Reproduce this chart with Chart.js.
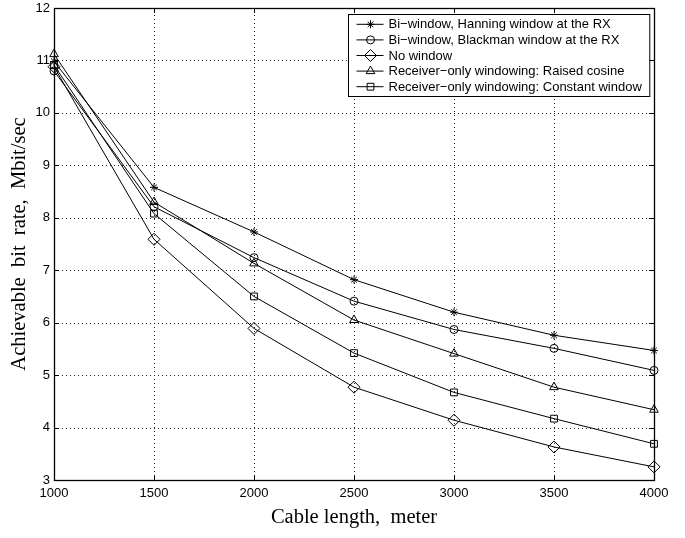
<!DOCTYPE html>
<html>
<head>
<meta charset="utf-8">
<script src="https://cdn.jsdelivr.net/npm/chart.js@4"></script>
<style>
  html, body { margin: 0; padding: 0; background: #fff; }
  #wrap { width: 685px; height: 538px; }
</style>
</head>
<body>
<div id="wrap"><canvas id="chart" width="685" height="538"></canvas></div>
<script>
const cableLength = [1000, 1500, 2000, 2500, 3000, 3500, 4000];
const hanningRX = [10.98, 8.58, 7.73, 6.82, 6.20, 5.76, 5.47];
const blackmanRX = [10.80, 8.21, 7.24, 6.41, 5.87, 5.51, 5.09];
const noWindow = [10.88, 7.59, 5.89, 4.77, 4.14, 3.63, 3.25];
const raisedCosine = [11.12, 8.30, 7.13, 6.05, 5.41, 4.77, 4.34];
const constantWindow = [10.91, 8.08, 6.50, 5.42, 4.67, 4.17, 3.69];

const seriesNames = [
  "Bi\u2212window, Hanning window at the RX",
  "Bi\u2212window, Blackman window at the RX",
  "No window",
  "Receiver\u2212only windowing: Raised cosine",
  "Receiver\u2212only windowing: Constant window"
];
const seriesValues = [hanningRX, blackmanRX, noWindow, raisedCosine, constantWindow];
const markers = ["star", "circle", "rectRot", "triangle", "rect"];
const markerSize = [4, 4, 6, 5, 4.8];

const sansFont = "'Liberation Sans', Arial, sans-serif";
const serifFont = "'Liberation Serif', 'Times New Roman', serif";

const datasets = seriesValues.map((vals, i) => ({
  label: seriesNames[i],
  data: vals.map((v, j) => ({ x: cableLength[j], y: v })),
  borderColor: "#000",
  backgroundColor: "rgba(0,0,0,0)",
  borderWidth: 1,
  pointStyle: markers[i],
  pointRadius: markerSize[i],
  pointBorderWidth: 1,
  pointBorderColor: "#000",
  pointBackgroundColor: "rgba(0,0,0,0)",
  tension: 0,
  clip: false,
}));

// dotted grid under the lines
const gridPlugin = {
  id: "dotgrid",
  beforeDatasetsDraw(chart) {
    const { ctx, chartArea: a, scales } = chart;
    ctx.save();
    ctx.strokeStyle = "#222";
    ctx.lineWidth = 1;
    ctx.setLineDash([1, 3]);
    ctx.beginPath();
    scales.x.ticks.forEach(t => {
      const px = Math.round(scales.x.getPixelForValue(t.value)) + 0.5;
      ctx.moveTo(px, a.bottom); ctx.lineTo(px, a.top);
    });
    scales.y.ticks.forEach(t => {
      const py = Math.round(scales.y.getPixelForValue(t.value)) + 0.5;
      ctx.moveTo(a.left, py); ctx.lineTo(a.right, py);
    });
    ctx.stroke();
    ctx.restore();
  }
};

// box, inward ticks and legend like the matlab figure
const framePlugin = {
  id: "frame",
  afterDraw(chart) {
    const { ctx, chartArea: a, scales } = chart;
    ctx.save();
    ctx.strokeStyle = "#000";
    ctx.lineWidth = 1;
    ctx.setLineDash([]);
    ctx.beginPath();
    scales.x.ticks.forEach(t => {
      const px = Math.round(scales.x.getPixelForValue(t.value)) + 0.5;
      ctx.moveTo(px, a.bottom); ctx.lineTo(px, a.bottom - 5);
      ctx.moveTo(px, a.top); ctx.lineTo(px, a.top + 5);
    });
    scales.y.ticks.forEach(t => {
      const py = Math.round(scales.y.getPixelForValue(t.value)) + 0.5;
      ctx.moveTo(a.left, py); ctx.lineTo(a.left + 5, py);
      ctx.moveTo(a.right, py); ctx.lineTo(a.right - 5, py);
    });
    ctx.stroke();
    ctx.lineWidth = 1.3;
    ctx.strokeRect(Math.round(a.left) + 0.5, Math.round(a.top) + 0.5,
      Math.round(a.right - a.left), Math.round(a.bottom - a.top));

    // legend
    ctx.font = "13px " + sansFont;
    const textW = Math.max(...chart.data.datasets.map(d => ctx.measureText(d.label).width));
    const rowH = 15.6;
    const boxW = 40 + textW + 8;
    const boxH = rowH * chart.data.datasets.length + 4;
    const bx = Math.round(a.right - 5 - boxW) + 0.5;
    const by = Math.round(a.top + 6) + 0.5;
    ctx.fillStyle = "#fff";
    ctx.fillRect(bx, by, boxW, boxH);
    ctx.lineWidth = 1;
    ctx.strokeRect(bx, by, boxW, boxH);
    chart.data.datasets.forEach((d, i) => {
      const cy = by + 2 + rowH * (i + 0.5);
      ctx.beginPath();
      ctx.moveTo(bx + 8, cy); ctx.lineTo(bx + 35, cy);
      ctx.stroke();
      ctx.fillStyle = "rgba(0,0,0,0)";
      Chart.helpers.drawPoint(ctx, {
        pointStyle: d.pointStyle, radius: d.pointRadius, borderWidth: 1
      }, bx + 22, cy);
      ctx.fillStyle = "#000";
      ctx.textBaseline = "middle";
      ctx.textAlign = "left";
      ctx.fillText(d.label, bx + 40, cy + 0.5);
    });
    ctx.restore();
  }
};

new Chart(document.getElementById("chart"), {
  type: "line",
  data: { datasets },
  plugins: [gridPlugin, framePlugin],
  options: {
    responsive: false,
    animation: false,
    layout: { padding: { left: 0, right: 31, top: 8, bottom: 0 } },
    plugins: { legend: { display: false }, tooltip: { enabled: false } },
    scales: {
      x: {
        type: "linear",
        min: 1000,
        max: 4000,
        afterFit: s => { s.height = 58; s.paddingLeft = 0; s.paddingRight = 0; },
        ticks: {
          stepSize: 500,
          padding: 6,
          color: "#000",
          font: { family: sansFont, size: 13 },
          maxRotation: 0,
          callback: v => String(v),
        },
        grid: { display: false, drawTicks: false },
        border: { display: false },
        title: {
          display: true,
          text: "Cable length,  meter",
          color: "#000",
          font: { family: serifFont, size: 20.5 },
          padding: { top: 0, bottom: 8 },
        },
      },
      y: {
        min: 3,
        max: 12,
        afterFit: s => { s.width = 54; s.paddingTop = 0; s.paddingBottom = 0; },
        ticks: {
          stepSize: 1,
          padding: 4,
          color: "#000",
          font: { family: sansFont, size: 13 },
          callback: v => String(v),
        },
        grid: { display: false, drawTicks: false },
        border: { display: false },
        title: {
          display: true,
          text: "Achievable  bit  rate,  Mbit/sec",
          color: "#000",
          font: { family: serifFont, size: 20.5 },
          padding: { top: 7, bottom: 0 },
        },
      },
    },
  },
});
</script>
</body>
</html>
